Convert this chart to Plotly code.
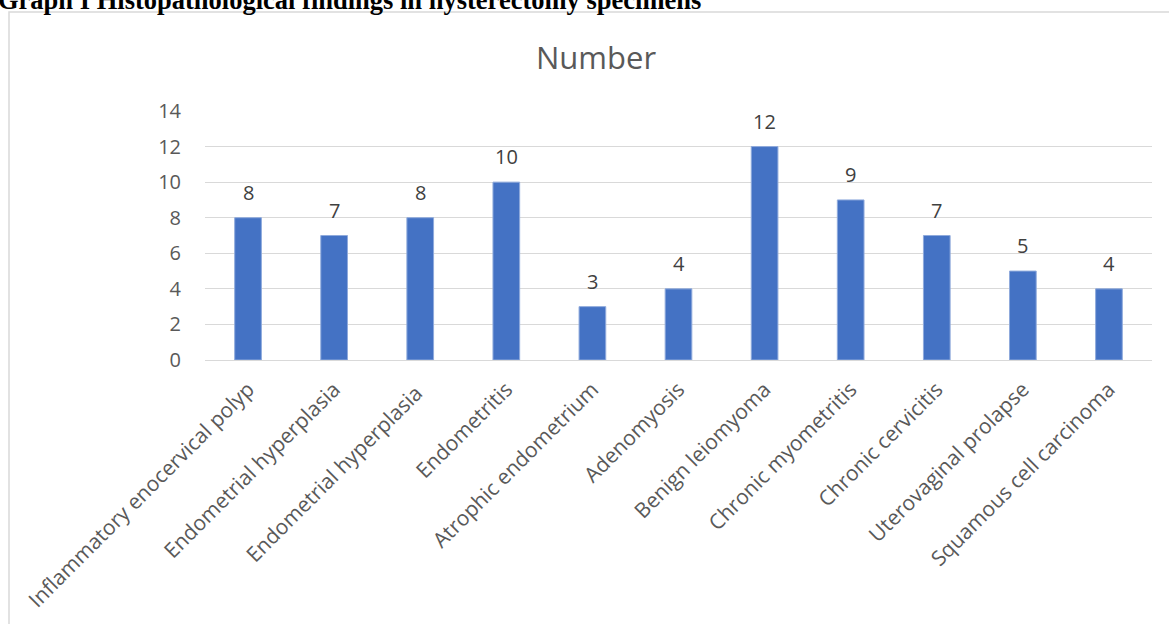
import plotly.graph_objects as go

categories = ["Inflammatory enocervical polyp", "Endometrial hyperplasia", "Endometrial hyperplasia ",
              "Endometritis", "Atrophic endometrium", "Adenomyosis", "Benign leiomyoma",
              "Chronic myometritis", "Chronic cervicitis", "Uterovaginal prolapse", "Squamous cell carcinoma"]
values = [8, 7, 8, 10, 3, 4, 12, 9, 7, 5, 4]
tick_vals = [0, 2, 4, 6, 8, 10, 12, 14]

W, H = 1169, 624
L, R, T, B = 205, 17, 111, 264
pw, ph = W - L - R, H - T - B

def px_x(q):
    return (q - L) / pw

def px_y(p):
    return (H - B - p) / ph

FONT = "Open Sans"

fig = go.Figure()
fig.add_trace(go.Bar(
    x=categories, y=values,
    marker=dict(color="#4472C4", line=dict(color="#8FAADC", width=1)),
    width=0.31,
    hoverinfo="x+y",
))

for c, v in zip(categories, values):
    fig.add_annotation(x=c, y=v, text=str(v), showarrow=False, xref="x", yref="y",
                       yanchor="bottom", yshift=10,
                       font=dict(family=FONT, size=20, color="#404040"))

fig.add_annotation(text="Number", xref="paper", yref="paper", x=px_x(596), y=px_y(57),
                   xanchor="center", yanchor="middle", showarrow=False,
                   font=dict(family=FONT, size=31, color="#595959"))

fig.add_annotation(text="<b>Graph I Histopathological findings in hysterectomy specimens</b>",
                   xref="paper", yref="paper", x=px_x(-4), y=px_y(17),
                   xanchor="left", yanchor="bottom", showarrow=False,
                   font=dict(family="Liberation Serif", size=26.5, color="#000000"))

fig.add_shape(type="rect", xref="paper", yref="paper",
              x0=px_x(9), x1=px_x(1180), y0=px_y(640), y1=px_y(12),
              line=dict(color="#D9D9D9", width=1.5), fillcolor="rgba(0,0,0,0)", layer="below")

fig.update_layout(
    width=W, height=H,
    margin=dict(l=L, r=R, t=T, b=B, autoexpand=False),
    plot_bgcolor="white", paper_bgcolor="white",
    showlegend=False,
    font=dict(family=FONT, size=20, color="#595959"),
)
fig.update_xaxes(tickangle=-45, tickfont=dict(family=FONT, size=21, color="#595959"),
                 showgrid=False, showline=False, ticks="", automargin=False, ticklabelstandoff=12)
fig.update_yaxes(range=[0, 14], tickvals=tick_vals, showgrid=True, gridcolor="#D9D9D9", gridwidth=1,
                 zeroline=True, zerolinecolor="#D9D9D9", zerolinewidth=1,
                 tickfont=dict(family=FONT, size=20, color="#595959"), ticks="", ticklabelstandoff=23,
                 automargin=False)

fig.write_html("out.html")
